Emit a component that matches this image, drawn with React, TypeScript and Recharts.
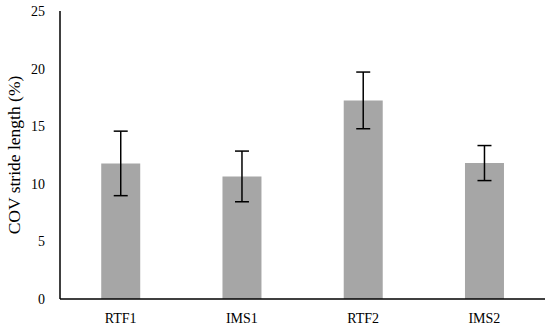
import { Bar, BarChart, ErrorBar, XAxis, YAxis } from "recharts";

const groups = ["RTF1", "IMS1", "RTF2", "IMS2"];
const means = [11.77, 10.64, 17.24, 11.8];
const sds = [2.8, 2.2, 2.46, 1.52];
const yTicks = [0, 5, 10, 15, 20, 25];

const chartData = groups.map((g, i) => ({ group: g, mean: means[i], sd: sds[i] }));

const font = "'Liberation Serif', 'DejaVu Serif', serif";

const App = () => {
  return (
    <div style={{ position: "absolute", left: 0, top: 0, width: 550, height: 336, background: "white" }}>
      <BarChart
        width={550}
        height={336}
        data={chartData}
        margin={{ top: 11, right: 5, left: 0, bottom: 7 }}
        barCategoryGap="34%"
      >
        <XAxis
          dataKey="group"
          tickLine={false}
          axisLine={{ stroke: "#000", strokeWidth: 1.5 }}
          height={30}
          tickSize={0}
          tickMargin={14}
          tick={{ fill: "#000", fontSize: 14, fontFamily: font }}
        />
        <YAxis
          domain={[0, 25]}
          ticks={yTicks}
          width={60}
          tickLine={false}
          tickSize={0}
          tickMargin={15}
          axisLine={{ stroke: "#000", strokeWidth: 1.5 }}
          tick={{ fill: "#000", fontSize: 14, fontFamily: font }}
          label={{
            value: "COV stride length (%)",
            angle: -90,
            position: "insideLeft",
            offset: 14,
            style: { textAnchor: "middle", fill: "#000", fontSize: 17.5, fontFamily: font },
          }}
        />
        <Bar dataKey="mean" fill="#a6a6a6" isAnimationActive={false}>
          <ErrorBar dataKey="sd" width={7} stroke="#000" strokeWidth={1.5} />
        </Bar>
      </BarChart>
    </div>
  );
};

export default App;
